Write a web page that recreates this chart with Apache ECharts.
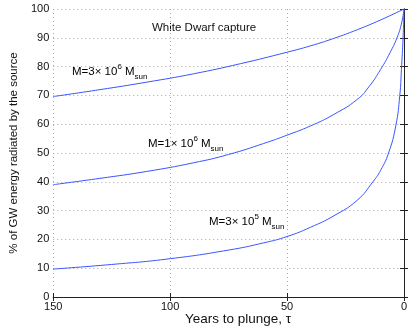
<!DOCTYPE html>
<html>
<head>
<meta charset="utf-8">
<title>White Dwarf capture</title>
<script src="https://cdn.jsdelivr.net/npm/echarts@6/dist/echarts.min.js"></script>
<style>
  html, body { margin: 0; padding: 0; background: #fff; }
  #chart { width: 411px; height: 327px; }
</style>
</head>
<body>
<div id="chart"></div>
<script>
// years to plunge (tau) and % of GW energy
const tau3e6 = [150, 130, 110, 90, 70, 50, 40, 30, 20, 10, 0];
const pct3e6 = [69.6, 72.0, 74.6, 77.5, 81.0, 85.0, 87.2, 89.8, 92.8, 96.2, 100];

const tau1e6 = [150, 130, 110, 90, 75, 60, 50, 40, 30, 20, 15, 10, 6, 3, 1, 0];
const pct1e6 = [39.0, 41.2, 43.6, 46.6, 49.5, 53.3, 56.2, 59.4, 63.4, 68.6, 73.0, 79.0, 84.8, 90.0, 95.2, 100];

const tau3e5 = [150, 125, 100, 75, 60, 50, 40, 30, 20, 13.4, 10, 6.6, 3.5, 1.8, 1.1, 0.4, 0];
const pct3e5 = [9.7, 11.3, 13.3, 16.3, 18.8, 21.0, 24.2, 28.2, 33.6, 39.9, 44.0, 50.0, 59.5, 70, 79, 90, 100];

const xTicks = [0, 50, 100, 150];
const yTicks = [0, 10, 20, 30, 40, 50, 60, 70, 80, 90, 100];

const FONT = "'Liberation Sans', Arial, sans-serif";
const LINE = '#3a55ff';
const INK = '#111';

function pairs(xs, ys) {
    return xs.map((x, i) => [x, ys[i]]);
}

function curve(name, xs, ys) {
    return {
        name: name,
        type: 'line',
        data: pairs(xs, ys),
        showSymbol: false,
        smooth: 0.5,
        lineStyle: { color: LINE, width: 1 },
        silent: true
    };
}

// superscript / subscript styles for the mass labels
const massRich = {
    m: { fontSize: 11.5, fontFamily: FONT, color: INK, lineHeight: 18, verticalAlign: 'middle' },
    sup: { fontSize: 8, fontFamily: FONT, color: INK, lineHeight: 10, verticalAlign: 'top' },
    sub: { fontSize: 8, fontFamily: FONT, color: INK, lineHeight: 8, verticalAlign: 'bottom' }
};

function massLabel(mant, exp, x, y) {
    return {
        type: 'text',
        x: x,
        y: y,
        silent: true,
        style: {
            text: '{m|M=' + mant + '\u00d7 10}{sup|' + exp + '}{m| M}{sub|sun}',
            rich: massRich,
            align: 'left',
            verticalAlign: 'middle'
        }
    };
}

function plainText(text, x, y, size, align) {
    return {
        type: 'text',
        x: x,
        y: y,
        silent: true,
        style: {
            text: text,
            fontSize: size,
            fontFamily: FONT,
            fill: INK,
            align: align,
            verticalAlign: 'middle'
        }
    };
}

const axisBox = { show: true, lineStyle: { color: '#222', width: 1 } };
const tickIn = { show: true, inside: true, length: 4, lineStyle: { color: '#222' } };

const chart = echarts.init(document.getElementById('chart'));

chart.setOption({
    animation: false,
    grid: { left: 40, right: 7, top: 9, bottom: 30 },
    xAxis: [{
        type: 'value',
        inverse: true,
        min: xTicks[0],
        max: xTicks[xTicks.length - 1],
        interval: 50,
        axisLine: axisBox,
        axisTick: tickIn,
        axisLabel: { fontSize: 11, fontFamily: FONT, color: INK, margin: 4 },
        splitLine: { show: true, lineStyle: { color: '#aaa', type: [1, 3] } }
    }, {
        type: 'value',
        position: 'top',
        inverse: true,
        min: xTicks[0],
        max: xTicks[xTicks.length - 1],
        interval: 50,
        axisLine: axisBox,
        axisTick: tickIn,
        axisLabel: { show: false },
        splitLine: { show: false }
    }],
    yAxis: [{
        type: 'value',
        min: yTicks[0],
        max: yTicks[yTicks.length - 1],
        interval: 10,
        name: '% of GW energy radiated by the source',
        nameLocation: 'middle',
        nameRotate: 90,
        nameGap: 22,
        nameTextStyle: { fontSize: 11.5, fontFamily: FONT, color: INK },
        axisLine: axisBox,
        axisTick: tickIn,
        axisLabel: { fontSize: 11, fontFamily: FONT, color: INK, margin: 4 },
        splitLine: { show: true, lineStyle: { color: '#aaa', type: [1, 3] } }
    }, {
        type: 'value',
        position: 'right',
        min: yTicks[0],
        max: yTicks[yTicks.length - 1],
        interval: 10,
        axisLine: axisBox,
        axisTick: tickIn,
        axisLabel: { show: false },
        splitLine: { show: false }
    }],
    series: [
        curve('M=3e6', tau3e6, pct3e6),
        curve('M=1e6', tau1e6, pct1e6),
        curve('M=3e5', tau3e5, pct3e5)
    ],
    graphic: [
        plainText('White Dwarf capture', 152, 28, 11.5, 'left'),
        plainText('Years to plunge, \u03c4', 238, 319, 13.5, 'center'),
        massLabel('3', '6', 72, 72),
        massLabel('1', '6', 148, 144),
        massLabel('3', '5', 209, 222)
    ]
});
</script>
</body>
</html>
